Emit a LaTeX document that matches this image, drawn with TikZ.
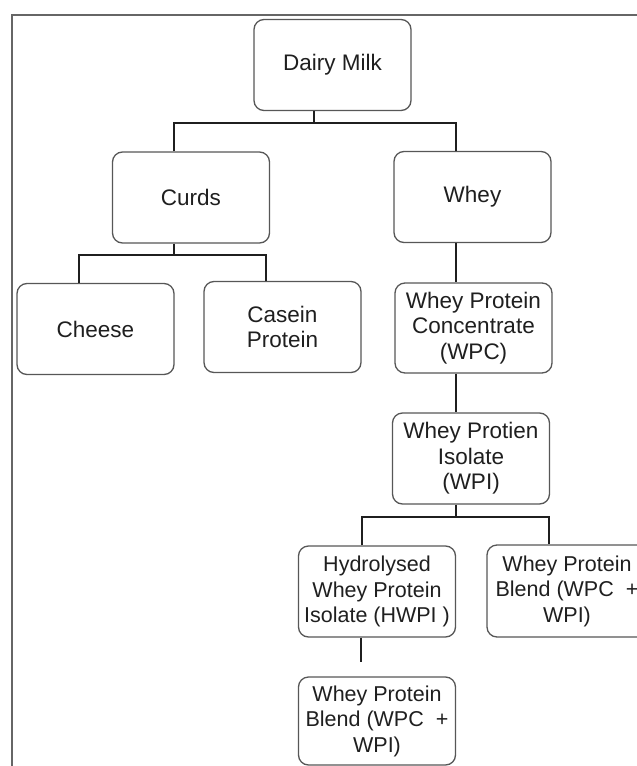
\documentclass[tikz,border=0pt]{standalone}
\usepackage{fontspec}
\setmainfont{Liberation Sans}
\usetikzlibrary{calc}

\begin{document}
\begin{tikzpicture}[x=1pt, y=-1pt,
    box/.style={draw=black!66, line width=1.3pt, rounded corners=10pt,
        fill=white, align=center, inner sep=0pt,
        minimum width=157pt, minimum height=91pt,
        font=\fontsize{22.5}{25.5}\selectfont, text=black!88},
    link/.style={draw=black!88, line width=2.5pt},
    frame/.style={draw=black!60, line width=1.4pt}]

    % 画面の大きさ
    \useasboundingbox (0,0) rectangle (637,766);
    \clip (0,0) rectangle (637,766);

    % 外枠(左と上)
    \draw[frame] (12,766) -- (12,15) -- (637,15);

    % 箱
    \node[box] (milk)   at (332.5,65)  {Dairy Milk};
    \node[box] (curds)  at (191,197.5) {Curds};
    \node[box] (whey)   at (472.5,197) {Whey};
    \node[box] (cheese) at (95.5,329)  {Cheese};
    \node[box] (casein) at (282.5,327) {Casein\\Protein};
    \node[box, minimum height=90pt] (wpc) at (473.5,328) {Whey Protein\\Concentrate\\(WPC)};
    \node[box] (wpi)    at (471,458.5) {Whey Protien\\Isolate\\(WPI)};
    \node[box, font=\fontsize{21.5}{25.5}\selectfont] (hwpi) at (377,591.5) {Hydrolysed\\Whey Protein\\Isolate (HWPI )};
    \node[box, minimum width=160pt, minimum height=92pt, font=\fontsize{21.5}{25.5}\selectfont] (blendr) at (567,591) {Whey Protein\\Blend (WPC\ \ +\\WPI)};
    \node[box, minimum height=88pt, font=\fontsize{21.5}{25.5}\selectfont] (blendb) at (377,721) {Whey Protein\\Blend (WPC\ \ +\\WPI)};

    % 分岐点
    \coordinate (j1) at (314,123);
    \coordinate (j2) at (174,255);
    \coordinate (j3) at (456,517);
    \coordinate (e1) at (361,662);

    % 接続線
    \draw[link] (j1 |- milk.south) -- (j1);
    \draw[link] ([xshift=-17pt]curds.north) |- (j1) -| ([xshift=-16.5pt]whey.north);
    \draw[link] (j2 |- curds.south) -- (j2);
    \draw[link] ([xshift=-16.5pt]cheese.north) |- (j2) -| ([xshift=-16.5pt]casein.north);
    \draw[link] ([xshift=-16.5pt]whey.south) -- ([xshift=-17.5pt]wpc.north);
    \draw[link] ([xshift=-17.5pt]wpc.south) -- ([xshift=-15pt]wpi.north);
    \draw[link] (j3 |- wpi.south) -- (j3);
    \draw[link] ([xshift=-15pt]hwpi.north) |- (j3) -| ([xshift=-18pt]blendr.north);
    \draw[link] (e1 |- hwpi.south) -- (e1);

\end{tikzpicture}
\end{document}
